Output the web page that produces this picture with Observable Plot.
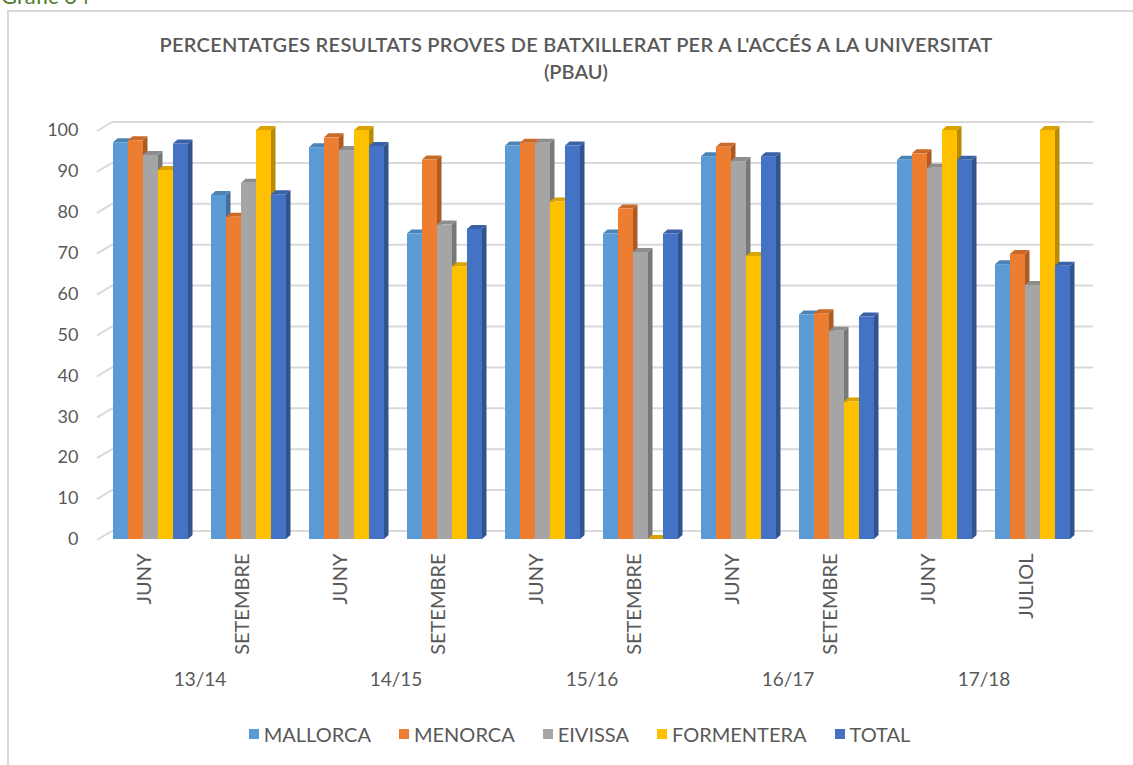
<!DOCTYPE html>
<html>
<head>
<meta charset="utf-8">
<script src="https://cdn.jsdelivr.net/npm/d3@7"></script>
<script src="https://cdn.jsdelivr.net/npm/@observablehq/plot@0.6"></script>
<style>
  body { margin: 0; background: #fff; width: 1133px; height: 765px; overflow: hidden; position: relative; font-family: Lato, "Open Sans", sans-serif; color: #595959; }
  #caption { position: absolute; left: 1px; top: -15px; font-size: 22px; line-height: 22px; color: #4f7b2b; white-space: nowrap; }
  #frame { position: absolute; left: 7px; top: 10px; width: 1300px; height: 900px; border-left: 2px solid #d9d9d9; border-top: 2px solid #d9d9d9; }
  #chart { position: absolute; left: 0; top: 0; }
  #title { position: absolute; left: 0; width: 1152px; top: 31px; text-align: center; font-size: 20px; font-weight: 600; line-height: 27px; color: #595959; white-space: nowrap; }
  #legend { position: absolute; left: 0; width: 1159px; top: 722px; display: flex; justify-content: center; gap: 28px; font-size: 20px; line-height: 24px; color: #595959; }
  .item { display: flex; align-items: center; gap: 5px; }
  .sw { width: 10px; height: 10px; display: inline-block; }
</style>
</head>
<body>
<div id="caption">Gràfic 34</div>
<div id="frame"></div>
<div id="chart"></div>
<div id="title"><span id="t1"></span><br><span id="t2"></span></div>
<div id="legend"></div>
<script>
// ---- data ----
const titleLine1 = "PERCENTATGES RESULTATS PROVES DE BATXILLERAT PER A L'ACCÉS A LA UNIVERSITAT";
const titleLine2 = "(PBAU)";
const years = ["13/14", "14/15", "15/16", "16/17", "17/18"];
const sessions = ["JUNY", "SETEMBRE", "JUNY", "SETEMBRE", "JUNY", "SETEMBRE", "JUNY", "SETEMBRE", "JUNY", "JULIOL"];
const series = ["MALLORCA", "MENORCA", "EIVISSA", "FORMENTERA", "TOTAL"];
const colors = ["#5b9bd5", "#ed7d31", "#a5a5a5", "#ffc000", "#4472c4"];
const mallorca   = [97.0, 84.1, 95.8, 74.7, 96.2, 74.7, 93.6, 54.9, 92.7, 67.2];
const menorca    = [97.5, 78.8, 98.2, 92.8, 96.9, 80.8, 95.9, 55.2, 94.3, 69.7];
const eivissa    = [93.9, 87.1, 95.1, 76.9, 96.9, 70.2, 92.4, 50.9, 90.8, 62.1];
const formentera = [90.2, 100, 100, 66.7, 82.5, 0, 69.2, 33.6, 100, 100];
const total      = [96.7, 84.3, 96.1, 75.8, 96.2, 74.7, 93.6, 54.4, 92.7, 66.8];
const yTicks = [0, 10, 20, 30, 40, 50, 60, 70, 80, 90, 100];

// ---- derived ----
const seriesValues = [mallorca, menorca, eivissa, formentera, total];
const keys = sessions.map((s, i) => years[Math.floor(i / 2)] + " " + s);

// ---- layout ----
const W = 1133, H = 700;
const mL = 101, mR = 52, mT = 130, mB = 161;
const PAD = 0.235;
const step = (W - mL - mR) / keys.length;
const barW = step * (1 - PAD) / series.length;
const DX = 4.5, DY = -4;
const grid = "#d9d9d9";

function wall(index, scales) {
  const y = scales.y;
  const g = d3.create("svg:g");
  for (const t of yTicks) {
    const yf = y(t);
    g.append("line").attr("x1", mL - 4).attr("y1", yf + 1).attr("x2", mL + 11).attr("y2", yf - 8)
      .attr("stroke", grid).attr("stroke-width", 2);
    g.append("line").attr("x1", mL + 11).attr("y1", yf - 8).attr("x2", W - mR + 12).attr("y2", yf - 8)
      .attr("stroke", grid).attr("stroke-width", 2);
  }
  return g.node();
}

function depth(index, scales) {
  const {x, y} = scales;
  const bwFull = typeof x.bandwidth === "function" ? x.bandwidth() : x.bandwidth;
  const bw = bwFull / series.length;
  const g = d3.create("svg:g");
  keys.forEach((k, gi) => {
    seriesValues.forEach((vals, si) => {
      const x1 = x(k) + si * bw, x2 = x1 + bw;
      const yt = y(vals[gi]), yb = y(0);
      const c = d3.color(colors[si]);
      g.append("path")
        .attr("d", `M${x2},${yt}L${x2 + DX},${yt + DY}L${x2 + DX},${yb + DY}L${x2},${yb}Z`)
        .attr("fill", c.darker(0.9).formatHex());
      g.append("path")
        .attr("d", `M${x1},${yt}L${x1 + DX},${yt + DY}L${x2 + DX},${yt + DY}L${x2},${yt}Z`)
        .attr("fill", c.darker(0.45).formatHex());
    });
  });
  return g.node();
}

const fronts = series.map((s, si) =>
  Plot.barY(keys.map((k, gi) => ({key: k, value: seriesValues[si][gi]})), {
    x: "key", y: "value", fill: colors[si],
    insetLeft: si * barW, insetRight: (series.length - 1 - si) * barW
  })
);

const chart = Plot.plot({
  width: W, height: H,
  marginLeft: mL, marginRight: mR, marginTop: mT, marginBottom: mB,
  style: {fontFamily: "Lato, 'Open Sans', sans-serif", fontSize: "18px", color: "#595959", background: "transparent"},
  x: {domain: keys, paddingInner: PAD, paddingOuter: PAD / 2, axis: null},
  y: {domain: [0, 100], ticks: yTicks, tickSize: 0, tickPadding: 23, label: null},
  marks: [
    wall,
    depth,
    ...fronts,
    Plot.text(keys, {x: d => d, text: (d, i) => sessions[i], rotate: -90, textAnchor: "end",
      frameAnchor: "bottom", dy: 14, fontSize: 20, fill: "#595959"}),
    Plot.text(years, {x: (d, i) => keys[2 * i], text: d => d, frameAnchor: "bottom",
      dx: step / 2, dy: 146, fontSize: 19, fill: "#595959"})
  ]
});
document.getElementById("chart").appendChild(chart);

// title
const t1 = document.getElementById("t1");
t1.textContent = titleLine1;
document.getElementById("t2").textContent = titleLine2;
const w1 = t1.getBoundingClientRect().width;
t1.style.letterSpacing = ((833 - w1) / titleLine1.length) + "px";

// legend
const legend = d3.select("#legend");
series.forEach((s, i) => {
  const it = legend.append("div").attr("class", "item");
  it.append("span").attr("class", "sw").style("background", colors[i]);
  it.append("span").text(s);
});
</script>
</body>
</html>
